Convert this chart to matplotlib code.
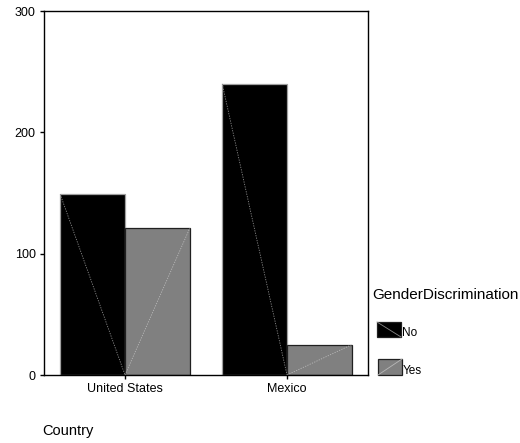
import matplotlib
matplotlib.use("Agg")
import matplotlib.pyplot as plt
from matplotlib.patches import Rectangle
import numpy as np

countries = ["United States", "Mexico"]
groups = ["No", "Yes"]
values_no = [149, 240]
values_yes = [121, 25]
y_ticks = [0, 100, 200, 300]

plt.rcParams['font.family'] = ['Liberation Sans', 'DejaVu Sans']

W, H = 520, 443
fig = plt.figure(figsize=(W / 100, H / 100), dpi=100)
ax = fig.add_axes([44 / W, 1 - 375 / H, (368 - 44) / W, (375 - 11) / H])

x = np.arange(len(countries))
bw = 0.40
colors = {"No": "#000000", "Yes": "#808080"}
edges = {"No": "#a0a0a0", "Yes": "#202020"}
diag = {"No": "#8a8a8a", "Yes": "#b8b8b8"}

for vals, grp, offset in [(values_no, "No", -bw / 2), (values_yes, "Yes", bw / 2)]:
    xs = x + offset
    ax.bar(xs, vals, width=bw, color=colors[grp], edgecolor=edges[grp],
           linewidth=0.9, zorder=2)
    for xc, v in zip(xs, vals):
        x0, x1 = xc - bw / 2, xc + bw / 2
        if grp == "No":
            ax.plot([x0, x1], [v, 0], color=diag[grp], lw=0.6,
                    ls=(0, (1.5, 1.5)), zorder=3)
        else:
            ax.plot([x0, x1], [0, v], color=diag[grp], lw=0.6,
                    ls=(0, (1.5, 1.5)), zorder=3)

ax.set_xlim(-0.5, 1.5)
ax.set_ylim(0, 300)
ax.set_yticks(y_ticks)
ax.set_yticklabels([str(t) for t in y_ticks], fontsize=9)
ax.set_xticks(x)
ax.set_xticklabels(countries, fontsize=9)
ax.tick_params(axis='both', direction='out', length=3, width=1, color='black', pad=3)
for s in ax.spines.values():
    s.set_linewidth(1.0)
    s.set_color('black')
    s.set_zorder(4)

fig.text(42 / W, 1 - 431 / H, "Country", fontsize=10.5, ha='left', va='center')

# legend (drawn in figure pixel space)
ov = fig.add_axes([0, 0, 1, 1], zorder=5)
ov.set_xlim(0, W)
ov.set_ylim(H, 0)
ov.axis('off')
ov.text(372, 295, "GenderDiscrimination", fontsize=11, ha='left', va='center')
leg = [("No", 377, 322, 24, 15), ("Yes", 378, 359, 24, 16)]
for grp, lx, ly, lw_, lh in leg:
    ov.add_patch(Rectangle((lx, ly), lw_, lh, facecolor=colors[grp],
                           edgecolor="#202020", linewidth=0.9))
    if grp == "No":
        ov.plot([lx, lx + lw_], [ly, ly + lh], color=diag[grp], lw=0.6)
    else:
        ov.plot([lx, lx + lw_], [ly + lh, ly], color=diag[grp], lw=0.6)
    ov.text(lx + lw_ + 1, ly + lh - 4, grp, fontsize=8.5, ha='left', va='center')

fig.savefig("out.png", dpi=100)
